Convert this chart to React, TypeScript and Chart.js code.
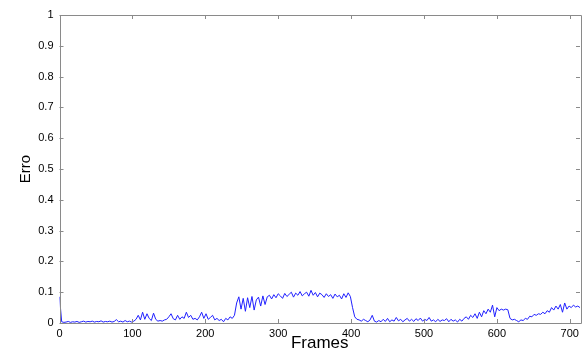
import React, { useEffect, useRef } from "react";
import { Chart, registerables } from "chart.js";

Chart.register(...registerables);

const FRAME_STEP = 3;
const X_TICKS = [0, 100, 200, 300, 400, 500, 600, 700];
const Y_TICKS = [0, 0.1, 0.2, 0.3, 0.4, 0.5, 0.6, 0.7, 0.8, 0.9, 1];
const X_MAX = 714;
const X_LABEL = "Frames";
const Y_LABEL = "Erro";

const errStart = [0.085];
const errLow = [
  0.004, 0.002, 0.003, 0.005, 0.002, 0.004, 0.003, 0.005, 0.002, 0.004,
  0.006, 0.003, 0.005, 0.004, 0.006, 0.003, 0.005, 0.004, 0.007, 0.003,
  0.005, 0.004, 0.006, 0.003, 0.005, 0.011, 0.004, 0.006, 0.003, 0.008,
  0.004, 0.006, 0.003,
];
const errRise = [
  0.006, 0.012, 0.025, 0.01, 0.035, 0.012, 0.03, 0.015, 0.008, 0.032,
  0.012, 0.006, 0.008, 0.006, 0.01, 0.012, 0.02, 0.03, 0.014, 0.01,
  0.025, 0.012, 0.02, 0.015, 0.035, 0.018, 0.025, 0.012, 0.015, 0.01,
  0.02, 0.035, 0.015, 0.03, 0.012, 0.018, 0.025, 0.01, 0.015, 0.008,
  0.012, 0.004, 0.015, 0.01, 0.02, 0.015, 0.025,
];
const errJump = [0.065, 0.085, 0.045, 0.08, 0.038, 0.082, 0.05, 0.086, 0.042, 0.075, 0.084, 0.055, 0.088];
const errHigh = [
  0.06, 0.085, 0.09, 0.078, 0.092, 0.082, 0.095, 0.088, 0.08, 0.096,
  0.086, 0.093, 0.1, 0.084, 0.097, 0.09, 0.102, 0.088, 0.095, 0.1,
  0.087, 0.106, 0.09, 0.099, 0.085, 0.097, 0.092, 0.083, 0.095, 0.086,
  0.092, 0.08, 0.094, 0.085, 0.09, 0.078, 0.095, 0.083, 0.098, 0.086,
];
const errDrop = [
  0.05, 0.02, 0.012, 0.01, 0.006, 0.012, 0.008, 0.004, 0.01, 0.025,
  0.006, 0.003, 0.008, 0.004, 0.012, 0.005, 0.015, 0.004, 0.01, 0.006,
  0.018, 0.007, 0.012, 0.004, 0.01, 0.015, 0.006, 0.012, 0.005, 0.014,
  0.008, 0.016, 0.006, 0.012, 0.008, 0.018, 0.006, 0.01, 0.004, 0.012,
  0.005, 0.01, 0.008, 0.014, 0.004, 0.012, 0.006, 0.01, 0.003, 0.012,
  0.006, 0.015,
];
const errEnd = [
  0.02, 0.012, 0.025, 0.018, 0.03, 0.015, 0.035, 0.02, 0.04, 0.03,
  0.045, 0.035, 0.058, 0.02, 0.05, 0.04, 0.045, 0.042, 0.045, 0.043,
  0.015, 0.01, 0.012, 0.008, 0.004, 0.01, 0.008, 0.015, 0.012, 0.022,
  0.02, 0.028, 0.025, 0.03, 0.028, 0.035, 0.03, 0.04, 0.035, 0.05,
  0.042, 0.055, 0.045, 0.06, 0.035, 0.065, 0.045, 0.055, 0.05, 0.058,
  0.052, 0.055, 0.05,
];

const errValues = [...errStart, ...errLow, ...errRise, ...errJump, ...errHigh, ...errDrop, ...errEnd];

const AXIS_COLOR = "#8a8a8a";
const FONT = "'Liberation Sans', Arial, sans-serif";

const framePlugin = {
  id: "matlabFrame",
  afterDatasetsDraw(chart: any) {
    const { ctx, chartArea: a, scales } = chart;
    const xs = scales.x;
    const ys = scales.y;
    ctx.save();
    ctx.strokeStyle = AXIS_COLOR;
    ctx.lineWidth = 1;
    ctx.beginPath();
    ctx.rect(Math.round(a.left) + 0.5, Math.round(a.top) + 0.5, Math.round(a.right - a.left), Math.round(a.bottom - a.top));
    ctx.stroke();
    const tl = 4;
    ctx.beginPath();
    X_TICKS.forEach((t) => {
      const px = Math.round(xs.getPixelForValue(t)) + 0.5;
      ctx.moveTo(px, a.bottom);
      ctx.lineTo(px, a.bottom - tl);
      ctx.moveTo(px, a.top);
      ctx.lineTo(px, a.top + tl);
    });
    Y_TICKS.forEach((t) => {
      const py = Math.round(ys.getPixelForValue(t)) + 0.5;
      ctx.moveTo(a.left, py);
      ctx.lineTo(a.left + tl, py);
      ctx.moveTo(a.right, py);
      ctx.lineTo(a.right - tl, py);
    });
    ctx.stroke();
    ctx.fillStyle = "#000";
    ctx.font = `17px ${FONT}`;
    ctx.textAlign = "center";
    ctx.textBaseline = "middle";
    ctx.fillText(X_LABEL, (a.left + a.right) / 2, 343);
    ctx.translate(26, (a.top + a.bottom) / 2);
    ctx.rotate(-Math.PI / 2);
    ctx.font = `15px ${FONT}`;
    ctx.fillText(Y_LABEL, 0, 0);
    ctx.restore();
  },
};

export default function App() {
  const ref = useRef<HTMLCanvasElement>(null);
  useEffect(() => {
    const data = errValues.map((v, i) => ({ x: i * FRAME_STEP, y: v }));
    const chart = new Chart(ref.current!, {
      type: "line",
      data: {
        datasets: [
          {
            data,
            borderColor: "#2020ff",
            borderWidth: 1,
            pointRadius: 0,
            tension: 0,
            fill: false,
          },
        ],
      },
      options: {
        animation: false,
        responsive: false,
        maintainAspectRatio: false,
        layout: { padding: { top: 15, right: 6, left: 0, bottom: 0 } },
        plugins: { legend: { display: false }, tooltip: { enabled: false } },
        scales: {
          x: {
            type: "linear",
            min: 0,
            max: X_MAX,
            border: { display: false },
            grid: { display: false, drawTicks: false },
            afterBuildTicks: (s: any) => {
              s.ticks = X_TICKS.map((v) => ({ value: v }));
            },
            afterFit: (s: any) => {
              s.height = 31;
            },
            ticks: {
              color: "#000",
              padding: 4,
              maxRotation: 0,
              autoSkip: false,
              font: { family: FONT, size: 11 },
            },
          },
          y: {
            type: "linear",
            min: 0,
            max: 1,
            border: { display: false },
            grid: { display: false, drawTicks: false },
            afterBuildTicks: (s: any) => {
              s.ticks = Y_TICKS.map((v) => ({ value: v }));
            },
            afterFit: (s: any) => {
              s.width = 59.5;
            },
            ticks: {
              color: "#000",
              padding: 6,
              autoSkip: false,
              font: { family: FONT, size: 11 },
              callback: (v: any) => String(Math.round(Number(v) * 10) / 10),
            },
          },
        },
      },
      plugins: [framePlugin],
    });
    return () => chart.destroy();
  }, []);
  return (
    <div style={{ position: "fixed", left: 0, top: 0, width: 586, height: 354, background: "#fff" }}>
      <canvas ref={ref} width={586} height={354} style={{ width: 586, height: 354 }} />
    </div>
  );
}
